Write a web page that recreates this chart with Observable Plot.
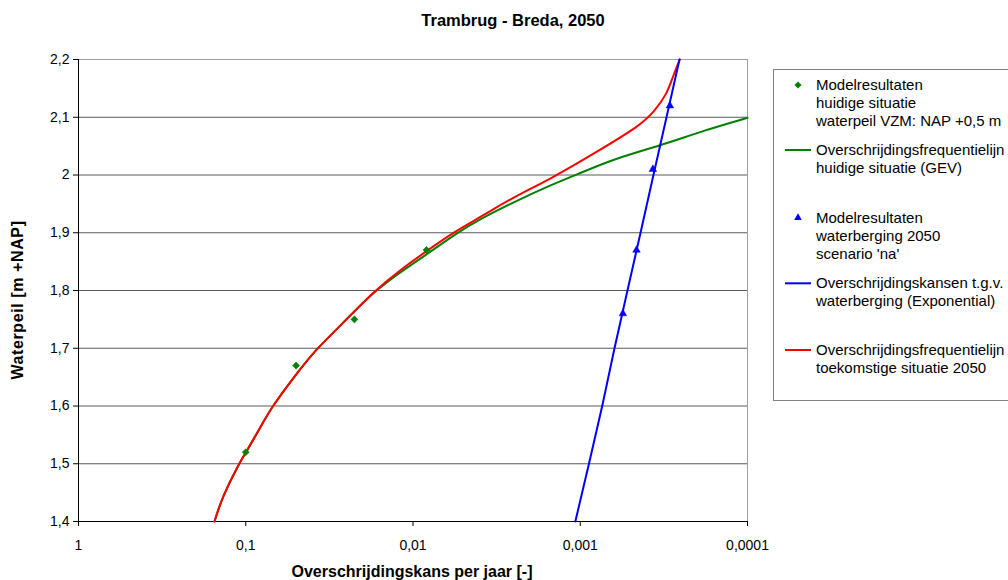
<!DOCTYPE html>
<html>
<head>
<meta charset="utf-8">
<script src="https://cdn.jsdelivr.net/npm/d3@7"></script>
<script src="https://cdn.jsdelivr.net/npm/@observablehq/plot@0.6"></script>
<style>
  html, body { margin: 0; padding: 0; background: #fff; }
  #wrap { position: relative; width: 1008px; height: 580px; overflow: hidden; font-family: "Liberation Sans", Arial, sans-serif; color: #000; }
  .abs { position: absolute; white-space: nowrap; }
  .title { font-weight: bold; font-size: 16px; }
  #legend { position: absolute; left: 773px; top: 69px; width: 260px; height: 332px; border: 1px solid #808080; box-sizing: border-box; background: #fff; }
  .ltext { position: absolute; font-size: 15px; line-height: 18px; white-space: nowrap; }
</style>
</head>
<body>
<div id="wrap"></div>
<script>
// ---------- data ----------
const chartTitle = "Trambrug - Breda, 2050";
const xLabel = "Overschrijdingskans per jaar [-]";
const yLabel = "Waterpeil [m +NAP]";
const xTicks = [1, 0.1, 0.01, 0.001, 0.0001];
const xTickLabels = ["1", "0,1", "0,01", "0,001", "0,0001"];
const yTicks = [1.4, 1.5, 1.6, 1.7, 1.8, 1.9, 2.0, 2.1, 2.2];
const yTickLabels = ["1,4", "1,5", "1,6", "1,7", "1,8", "1,9", "2", "2,1", "2,2"];

// Modelresultaten huidige situatie (green diamonds)
const greenPtsX = [0.1, 0.05, 0.0224, 0.0083];
const greenPtsY = [1.52, 1.67, 1.75, 1.87];
// Overschrijdingsfrequentielijn huidige situatie (GEV) (green line)
const greenLineX = [0.1538, 0.1383, 0.1100, 0.0994, 0.0797, 0.0695, 0.0516, 0.0378, 0.0271, 0.01729, 0.01108, 0.00786, 0.00544, 0.00395, 0.0025, 0.001576, 0.001043, 0.00063, 0.000331, 0.0001825, 0.0001];
const greenLineY = [1.40, 1.442, 1.50, 1.52, 1.569, 1.599, 1.65, 1.699, 1.739, 1.798, 1.838, 1.867, 1.90, 1.924, 1.953, 1.98, 2.001, 2.028, 2.051, 2.077, 2.099];
// Modelresultaten waterberging 2050 (blue triangles)
const bluePtsX = [0.000556, 0.000461, 0.000368, 0.000291];
const bluePtsY = [1.76, 1.87, 2.01, 2.12];
// Overschrijdingskansen t.g.v. waterberging (Exponential) (blue line)
const blueLineX = [0.00107, 0.000887, 0.000739, 0.000624, 0.000522, 0.000436, 0.000365, 0.000305, 0.000255];
const blueLineY = [1.4, 1.5, 1.6, 1.7, 1.8, 1.9, 2.0, 2.1, 2.2];
// Overschrijdingsfrequentielijn toekomstige situatie 2050 (red line)
const redLineX = [0.1538, 0.1383, 0.1100, 0.0994, 0.0797, 0.0695, 0.0516, 0.0378, 0.0271, 0.01729, 0.01188, 0.00822, 0.00565, 0.00395, 0.0025, 0.001507, 0.00083, 0.000436, 0.000363, 0.000302, 0.000280, 0.000254];
const redLineY = [1.40, 1.442, 1.50, 1.52, 1.569, 1.599, 1.65, 1.699, 1.739, 1.798, 1.836, 1.869, 1.902, 1.927, 1.962, 1.993, 2.037, 2.086, 2.109, 2.141, 2.17, 2.2];

const legendLabels = [
  ["Modelresultaten", "huidige situatie", "waterpeil VZM: NAP +0,5 m"],
  ["Overschrijdingsfrequentielijn", "huidige situatie (GEV)"],
  ["Modelresultaten", "waterberging 2050", "scenario 'na'"],
  ["Overschrijdingskansen t.g.v.", "waterberging (Exponential)"],
  ["Overschrijdingsfrequentielijn", "toekomstige situatie 2050"]
];
const legendKinds = ["diamond", "line", "triangle", "line", "line"];
const legendColors = ["#008000", "#008000", "#0000ff", "#0000ff", "#ff0000"];

// ---------- build ----------
const zip = (xs, ys) => xs.map((x, i) => ({x, y: ys[i]}));
const xFmt = d => xTickLabels[xTicks.findIndex(t => Math.abs(Math.log10(t) - Math.log10(d)) < 1e-6)];
const yFmt = d => yTickLabels[yTicks.findIndex(t => Math.abs(t - d) < 1e-6)];
const rDiamond = 3.2, rTriangle = 2.8;

const chart = Plot.plot({
  width: 1008,
  height: 580,
  marginLeft: 78,
  marginRight: 261,
  marginTop: 59,
  marginBottom: 59,
  style: {fontFamily: "'Liberation Sans', Arial, sans-serif", fontSize: "14px", color: "#000", background: "transparent"},
  x: {type: "log", domain: [1, 0.0001]},
  y: {domain: [1.4, 2.2]},
  marks: [
    Plot.ruleY(yTicks.filter(d => d > 1.4 && d < 2.2), {stroke: "#5a5a5a", strokeWidth: 1}),
    Plot.ruleY([2.2], {stroke: "#a0a0a0", strokeWidth: 1}),
    Plot.ruleX([0.0001], {stroke: "#a0a0a0", strokeWidth: 1}),
    Plot.axisX({ticks: xTicks, tickFormat: xFmt, tickSize: 5, tickPadding: 14, label: null, stroke: "#000"}),
    Plot.axisY({ticks: yTicks, tickFormat: yFmt, tickSize: 5, tickPadding: 4, label: null, stroke: "#000"}),
    Plot.ruleX([1], {stroke: "#000", strokeWidth: 1}),
    Plot.ruleY([1.4], {stroke: "#000", strokeWidth: 1}),
    Plot.line(zip(greenLineX, greenLineY), {x: "x", y: "y", stroke: "#008000", strokeWidth: 2, curve: "basis"}),
    Plot.line(zip(redLineX, redLineY), {x: "x", y: "y", stroke: "#ff0000", strokeWidth: 2, curve: "basis"}),
    Plot.line(zip(blueLineX, blueLineY), {x: "x", y: "y", stroke: "#0000ff", strokeWidth: 2}),
    Plot.dot(zip(greenPtsX, greenPtsY), {x: "x", y: "y", symbol: "diamond2", r: rDiamond, fill: "#008000", stroke: "#008000", strokeWidth: 0.5}),
    Plot.dot(zip(bluePtsX, bluePtsY), {x: "x", y: "y", symbol: "triangle", r: rTriangle, fill: "#0000ff", stroke: "#0000ff", strokeWidth: 0.5})
  ]
});

const wrap = document.getElementById("wrap");
chart.style.position = "absolute";
chart.style.left = "0px";
chart.style.top = "0px";
wrap.appendChild(chart);

function addText(txt, cls, css) {
  const d = document.createElement("div");
  d.className = "abs " + cls;
  d.textContent = txt;
  Object.assign(d.style, css);
  wrap.appendChild(d);
  return d;
}
addText(chartTitle, "title", {left: "513px", top: "20px", transform: "translate(-50%, -50%)", fontSize: "16.5px"});
addText(xLabel, "title", {left: "412px", top: "572px", transform: "translate(-50%, -50%)"});
addText(yLabel, "title", {left: "18px", top: "300px", transform: "translate(-50%, -50%) rotate(-90deg)", letterSpacing: "0.6px"});

// legend
const legend = document.createElement("div");
legend.id = "legend";
wrap.appendChild(legend);
const legendTops = [85, 150, 217.7, 283.3, 350]; // centre of first text line (page coords)
const lx0 = 773, ly0 = 69;
const ns = "http://www.w3.org/2000/svg";
const sym = document.createElementNS(ns, "svg");
sym.setAttribute("width", 40);
sym.setAttribute("height", 330);
sym.style.position = "absolute";
sym.style.left = "0px";
sym.style.top = "0px";
legend.appendChild(sym);
legendLabels.forEach((lines, i) => {
  const cy = legendTops[i] - ly0 - 1;
  const cx = 798 - lx0 - 1;
  if (legendKinds[i] === "line") {
    const l = document.createElementNS(ns, "line");
    l.setAttribute("x1", 785 - lx0 - 1); l.setAttribute("x2", 811 - lx0 - 1);
    l.setAttribute("y1", cy); l.setAttribute("y2", cy);
    l.setAttribute("stroke", legendColors[i]); l.setAttribute("stroke-width", 2);
    sym.appendChild(l);
  } else {
    const p = document.createElementNS(ns, "path");
    const r = legendKinds[i] === "diamond" ? rDiamond : rTriangle;
    const s = d3.symbol(legendKinds[i] === "diamond" ? d3.symbolDiamond2 : d3.symbolTriangle, r * r * Math.PI);
    p.setAttribute("d", s());
    p.setAttribute("transform", `translate(${cx},${cy})`);
    p.setAttribute("fill", legendColors[i]);
    sym.appendChild(p);
  }
  const t = document.createElement("div");
  t.className = "ltext";
  t.style.left = (816 - lx0 - 1) + "px";
  t.style.top = (legendTops[i] - ly0 - 1 - 9) + "px";
  t.innerHTML = lines.map(s => s.replace(/&/g, "&amp;").replace(/</g, "&lt;")).join("<br>");
  legend.appendChild(t);
});
</script>
</body>
</html>
